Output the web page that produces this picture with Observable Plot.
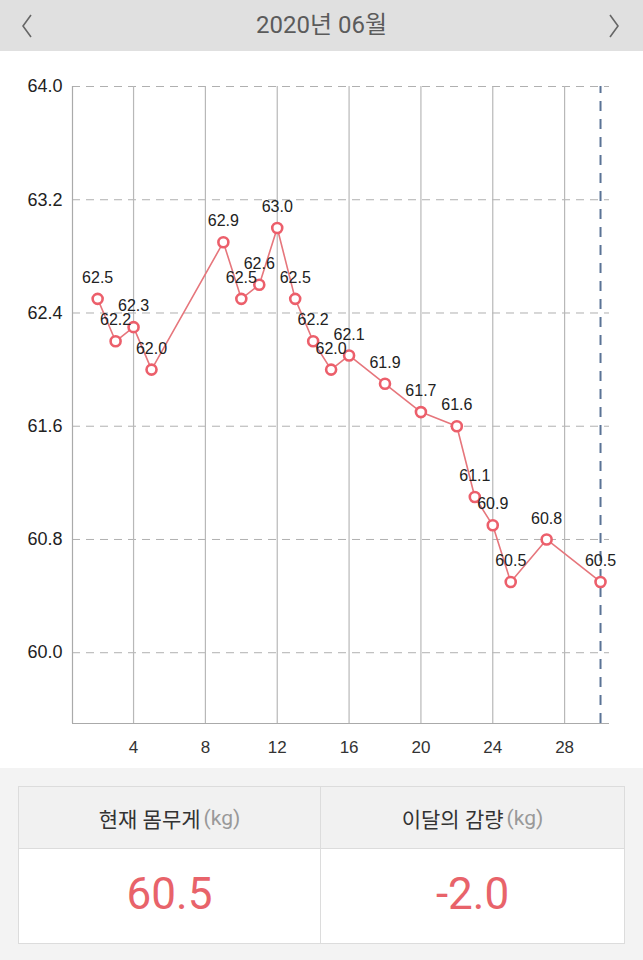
<!DOCTYPE html>
<html>
<head>
<meta charset="utf-8">
<script src="https://cdn.jsdelivr.net/npm/d3@7"></script>
<script src="https://cdn.jsdelivr.net/npm/@observablehq/plot@0.6"></script>
<style>
  html, body { margin: 0; padding: 0; background: #fff; width: 643px; height: 960px; overflow: hidden; }
  #header { position: relative; height: 51px; background: #e0e0e0; text-align: center;
    font-family: Roboto, "Noto Sans CJK KR", sans-serif; font-size: 24px; color: #5b5b5b; line-height: 51px; }
  #header svg { position: absolute; top: 13px; }
  #chart { height: 717px; background: #fff; }
  #chart svg { display: block; }
  #bottom { position: relative; height: 192px; background: #f3f3f3; }
  #tbl { position: absolute; left: 18px; top: 18px; width: 605px; height: 156px;
    border: 1px solid #dcdcdc; background: #fff; display: grid; grid-template-columns: 302px 303px;
    grid-template-rows: 62px 94px; font-family: Roboto, "Noto Sans CJK KR", sans-serif; }
  .hd { background: #f1f1f1; border-bottom: 1px solid #dcdcdc; display: flex; align-items: center;
    justify-content: center; font-size: 21px; color: #333; }
  .hd span { color: #999; margin-left: 3px; }
  .val { display: flex; align-items: center; justify-content: center; font-size: 44px; color: #e8636a; padding-bottom: 4px; }
  .l { border-right: 1px solid #dcdcdc; }
</style>
</head>
<body>
<div id="header">
  <svg style="left:20px" width="14" height="26" viewBox="0 0 14 26"><polyline points="11,2 3,13 11,24" fill="none" stroke="#666" stroke-width="1.6"/></svg>
  2020년 06월
  <svg style="right:22px" width="14" height="26" viewBox="0 0 14 26"><polyline points="3,2 11,13 3,24" fill="none" stroke="#666" stroke-width="1.6"/></svg>
</div>
<div id="chart"></div>
<div id="bottom">
  <div id="tbl">
    <div class="hd l">현재 몸무게<span>(kg)</span></div>
    <div class="hd">이달의 감량<span>(kg)</span></div>
    <div class="val l" id="cur"></div>
    <div class="val" id="diff"></div>
  </div>
</div>
<script>
const days = [2, 3, 4, 5, 9, 10, 11, 12, 13, 14, 15, 16, 18, 20, 22, 23, 24, 25, 27, 30];
const weights = [62.5, 62.2, 62.3, 62.0, 62.9, 62.5, 62.6, 63.0, 62.5, 62.2, 62.0, 62.1, 61.9, 61.7, 61.6, 61.1, 60.9, 60.5, 60.8, 60.5];
const xTicks = [4, 8, 12, 16, 20, 24, 28];
const yTicks = [60.0, 60.8, 61.6, 62.4, 63.2, 64.0];
const todayDay = 30;
const currentWeight = "60.5";
const monthChange = "-2.0";

const data = days.map((d, i) => ({day: d, w: weights[i]}));
const xDom = [0.6, 30.5];
const yDom = [59.5, 64];

const chart = Plot.plot({
  width: 643,
  height: 717,
  marginLeft: 72,
  marginRight: 34,
  marginTop: 35,
  marginBottom: 45,
  style: {fontFamily: "'Liberation Sans', Arial, sans-serif", background: "#fff", color: "#222"},
  x: {domain: xDom, label: null},
  y: {domain: yDom, label: null},
  marks: [
    Plot.ruleY(yTicks, {x1: xDom[0], x2: xDom[1], stroke: "#b0b0b0", strokeWidth: 1, strokeDasharray: "8,6"}),
    Plot.ruleX(xTicks, {y1: yDom[0], y2: yDom[1], stroke: "#b8b8b8", strokeWidth: 1.2}),
    Plot.ruleX([xDom[0]], {y1: yDom[0], y2: yDom[1], stroke: "#aaa", strokeWidth: 1.2}),
    Plot.ruleY([yDom[0]], {x1: xDom[0], x2: xDom[1], stroke: "#aaa", strokeWidth: 1.2}),
    Plot.ruleX([todayDay], {y1: yDom[0], y2: yDom[1], stroke: "#5a7396", strokeWidth: 2, strokeDasharray: "10,8"}),
    Plot.line(data, {x: "day", y: "w", stroke: "#e6767c", strokeWidth: 1.6}),
    Plot.dot(data, {x: "day", y: "w", r: 5, fill: "#fff", stroke: "#ec5f6b", strokeWidth: 2.6}),
    Plot.text(data, {x: "day", y: "w", text: d => d.w.toFixed(1), dy: -21, fontSize: 16, fill: "#222"}),
    Plot.axisX(xTicks, {tickSize: 0, tickPadding: 17, fontSize: 17, fill: "#333", label: null}),
    Plot.axisY(yTicks, {tickSize: 0, tickPadding: 10, fontSize: 18, fill: "#222", label: null, tickFormat: d => d.toFixed(1)})
  ]
});
document.getElementById("chart").appendChild(chart);
document.getElementById("cur").textContent = currentWeight;
document.getElementById("diff").textContent = monthChange;
</script>
</body>
</html>
